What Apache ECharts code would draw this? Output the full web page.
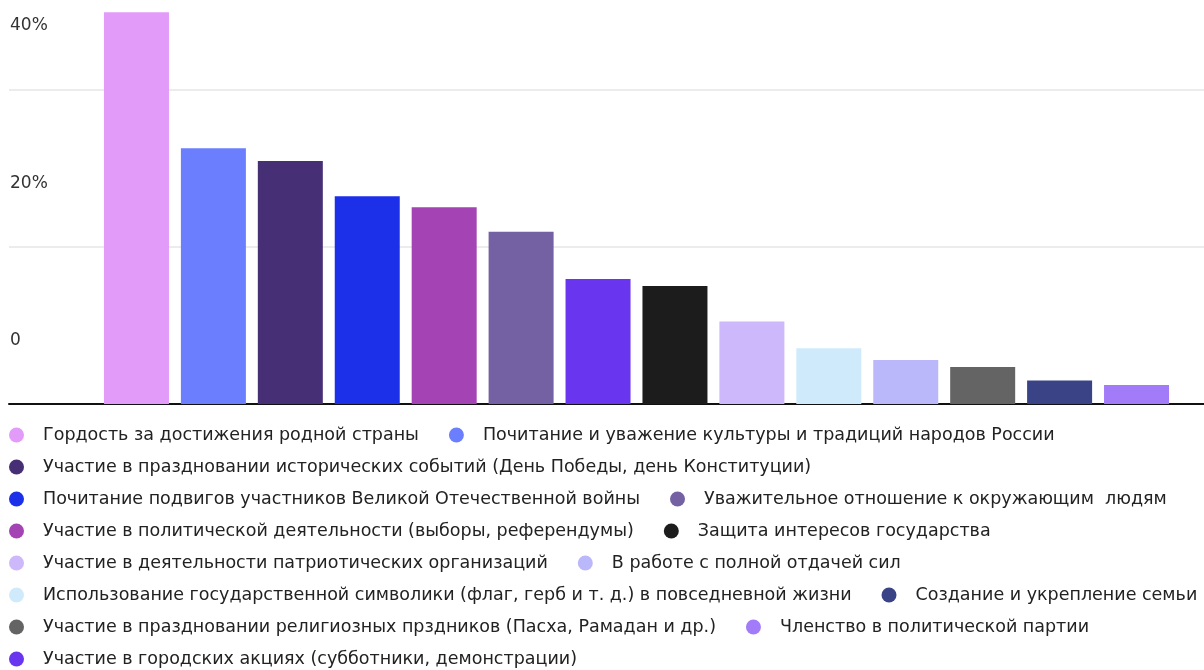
<!DOCTYPE html>
<html>
<head>
<meta charset="utf-8">
<script src="https://cdn.jsdelivr.net/npm/echarts@6/dist/echarts.min.js"></script>
<style>
html,body{margin:0;padding:0;background:#fff;}
#chart{width:1204px;height:670px;}
</style>
</head>
<body>
<div id="chart"></div>
<script>
// Bar order (left to right)
var categories = [
  'Гордость за достижения родной страны',
  'Почитание и уважение культуры и традиций народов России',
  'Участие в праздновании исторических событий (День Победы, день Конституции)',
  'Почитание подвигов участников Великой Отечественной войны',
  'Участие в политической деятельности (выборы, референдумы)',
  'Уважительное отношение к окружающим  людям',
  'Участие в городских акциях (субботники, демонстрации)',
  'Защита интересов государства',
  'Участие в деятельности патриотических организаций',
  'Использование государственной символики (флаг, герб и т. д.) в повседневной жизни',
  'В работе с полной отдачей сил',
  'Участие в праздновании религиозных прздников (Пасха, Рамадан и др.)',
  'Создание и укрепление семьи',
  'Членство в политической партии'
];
var values = [49.8, 32.5, 30.9, 26.4, 25.0, 21.9, 15.9, 15.0, 10.5, 7.1, 5.6, 4.7, 3.0, 2.4];
var colors = ['#E39BFA','#6B7FFE','#462F74','#1B30E8','#A343B4','#7461A3','#6935EF','#1C1C1C','#CDB8FB','#CFEBFB','#BAB8FB','#646464','#3A4385','#A27BF8'];
// Legend order
var legendOrder = [
  'Гордость за достижения родной страны',
  'Почитание и уважение культуры и традиций народов России',
  'Участие в праздновании исторических событий (День Победы, день Конституции)',
  'Почитание подвигов участников Великой Отечественной войны',
  'Уважительное отношение к окружающим  людям',
  'Участие в политической деятельности (выборы, референдумы)',
  'Защита интересов государства',
  'Участие в деятельности патриотических организаций',
  'В работе с полной отдачей сил',
  'Использование государственной символики (флаг, герб и т. д.) в повседневной жизни',
  'Создание и укрепление семьи',
  'Участие в праздновании религиозных прздников (Пасха, Рамадан и др.)',
  'Членство в политической партии',
  'Участие в городских акциях (субботники, демонстрации)'
];
var yTicks = [0, 20, 40];

var FONT = '"DejaVu Sans", sans-serif';
var chart = echarts.init(document.getElementById('chart'), null, {renderer:'canvas'});

var series = categories.map(function(name, i){
  var d = categories.map(function(){ return null; });
  d[i] = values[i];
  return {
    name: name,
    type: 'bar',
    stack: 'all',
    xAxisIndex: 1,
    yAxisIndex: 1,
    barWidth: 65,
    itemStyle: {color: colors[i]},
    data: d
  };
});

chart.setOption({
  animation: false,
  textStyle: {fontFamily: FONT},
  grid: [
    {left: 9, right: 0, top: 89.3, bottom: 266},
    {left: 98, right: 29, top: 10.7, bottom: 266}
  ],
  xAxis: [
    {gridIndex: 0, type: 'category', data: [''], boundaryGap: false,
     axisLine: {show: true, lineStyle: {color: '#111', width: 2}},
     axisTick: {show: false}, axisLabel: {show: false}},
    {gridIndex: 1, type: 'category', data: categories,
     axisLine: {show: false}, axisTick: {show: false}, axisLabel: {show: false}}
  ],
  yAxis: [
    {gridIndex: 0, type: 'value', min: yTicks[0], max: yTicks[yTicks.length-1], interval: 20,
     axisLine: {show: false}, axisTick: {show: false},
     splitLine: {show: true, lineStyle: {color: '#e6e6e6', width: 1.5}},
     axisLabel: {
       align: 'left', margin: -1, verticalAlign: 'bottom',
       padding: [0, 0, 55, 0],
       fontSize: 17, color: '#333', fontFamily: FONT,
       formatter: function(v){ return v === 0 ? '0' : v + '%'; }
     }},
    {gridIndex: 1, type: 'value', min: 0, max: 50, show: false,
     splitLine: {show: false}}
  ],
  legend: {
    data: legendOrder,
    left: 9, top: 426, width: 1216, padding: 0,
    icon: 'circle', itemWidth: 15, itemHeight: 15,
    itemGap: 14,
    textStyle: {fontFamily: FONT, fontSize: 17.5, color: '#222', lineHeight: 18,
                padding: [0, 16, 0, 14]}
  },
  series: series
});
</script>
</body>
</html>
